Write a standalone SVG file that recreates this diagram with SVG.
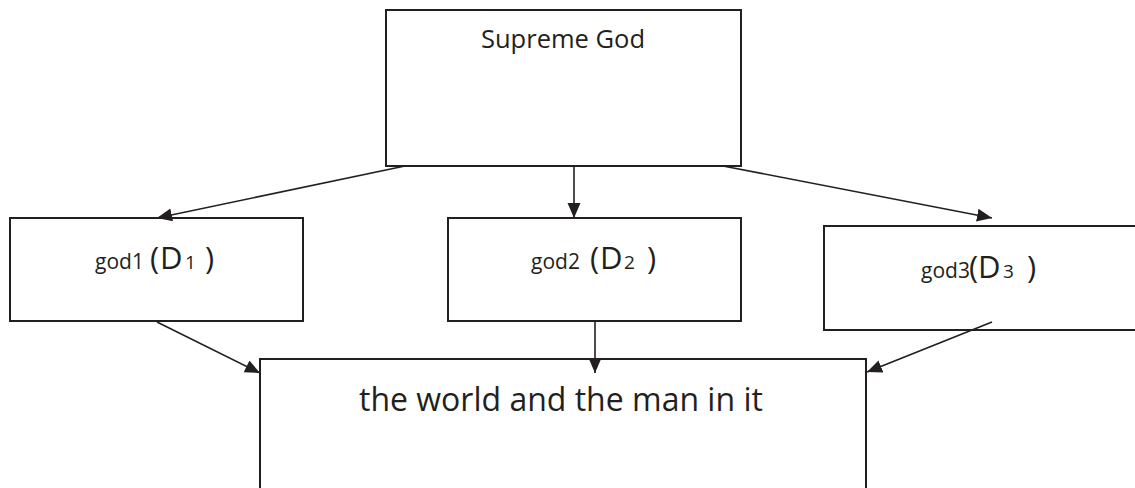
<svg xmlns="http://www.w3.org/2000/svg" width="1135" height="488" viewBox="0 0 1135 488">
<style>
.box{fill:#fff;stroke:#231f20;stroke-width:2}
.conn{stroke:#231f20;stroke-width:1.6;fill:none;marker-end:url(#ah)}
text{font-family:"Open Sans","DejaVu Sans",sans-serif;fill:#231f20}
.s{font-size:21px}
.b{font-size:31px}
.sub{font-size:19px}
</style>
<defs>
<marker id="ah" markerUnits="userSpaceOnUse" markerWidth="16" markerHeight="14" refX="15" refY="6.5" orient="auto">
<path d="M0,0 L15,6.5 L0,13 z" fill="#231f20"/>
</marker>
</defs>
<rect width="1135" height="488" fill="#fff"/>
<g id="supreme">
<rect class="box" x="386" y="10" width="355" height="156"/>
<text x="563" y="48" font-size="25.5" text-anchor="middle">Supreme God</text>
</g>
<g id="god1">
<rect class="box" x="10" y="218" width="293" height="103"/>
<text y="269"><tspan class="s" x="95">god1</tspan><tspan class="b" x="150">(</tspan><tspan class="b" x="160">D</tspan><tspan class="sub" x="185">1</tspan><tspan class="b" x="205">)</tspan></text>
</g>
<g id="god2">
<rect class="box" x="448" y="218" width="293" height="103"/>
<text y="269"><tspan class="s" x="531">god2</tspan><tspan class="b" x="590">(</tspan><tspan class="b" x="600">D</tspan><tspan class="sub" x="624">2</tspan><tspan class="b" x="647">)</tspan></text>
</g>
<g id="god3">
<rect class="box" x="824" y="226" width="400" height="104"/>
<text y="278"><tspan class="s" x="921">god3</tspan><tspan class="b" x="969">(</tspan><tspan class="b" x="978">D</tspan><tspan class="sub" x="1003">3</tspan><tspan class="b" x="1027">)</tspan></text>
</g>
<g id="world">
<rect class="box" x="260" y="359" width="606" height="200"/>
<text x="359" y="411" font-size="32">the world and the man in it</text>
</g>
<g id="connectors">
<line class="conn" x1="405" y1="166" x2="157" y2="218"/>
<line class="conn" x1="574" y1="166" x2="574" y2="218"/>
<line class="conn" x1="723" y1="166" x2="992" y2="218"/>
<line class="conn" x1="157" y1="322" x2="260" y2="373"/>
<line class="conn" x1="595" y1="322" x2="595" y2="373"/>
<line class="conn" x1="992" y1="322" x2="867" y2="372"/>
</g>
</svg>
